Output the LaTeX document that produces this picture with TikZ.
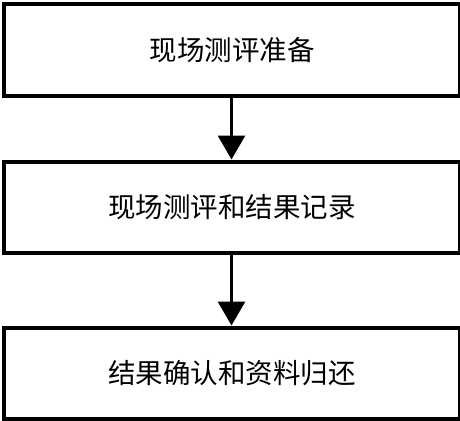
\documentclass[tikz,border=0pt]{standalone}
\usepackage{fontspec}
\newfontfamily\cjk{Noto Sans CJK SC}
\usetikzlibrary{arrows.meta}
\begin{document}
\begin{tikzpicture}[x=1pt,y=-1pt,
  stepbox/.style={draw=black,line width=4pt,minimum width=456pt,minimum height=91pt,inner sep=0pt,font=\cjk\fontsize{27.5}{30}\selectfont,anchor=north west},
  flow/.style={line width=3pt,-{Triangle[width=27pt,length=24pt]}}]
\useasboundingbox (0,0) rectangle (460,420);
\node[stepbox] (a) at (2,2.5) {现场测评准备};
\node[stepbox] (b) at (2,159.5) {现场测评和结果记录};
\node[stepbox] (c) at (2,325.5) {结果确认和资料归还};
\draw[flow] ([xshift=-0.5pt]a.south) -- ([xshift=-0.5pt]b.north);
\draw[flow] ([xshift=-0.5pt]b.south) -- ([xshift=-0.5pt]c.north);
\end{tikzpicture}
\end{document}
